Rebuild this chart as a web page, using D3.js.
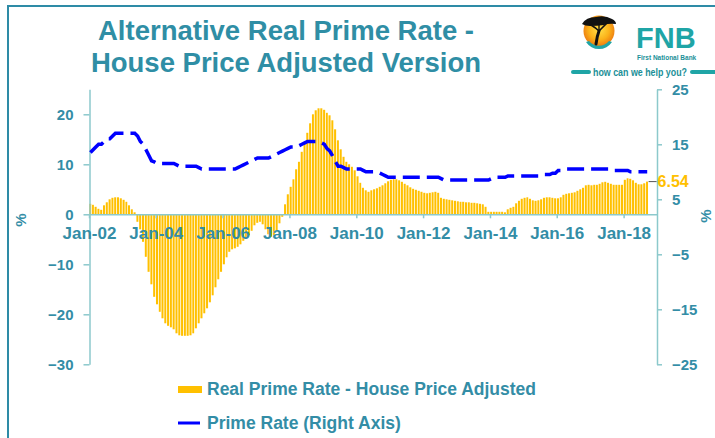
<!DOCTYPE html>
<html lang="en">
<head>
  <meta charset="UTF-8">
  <title>Alternative Real Prime Rate - House Price Adjusted Version</title>
  <style>
    body { margin: 0; background: #fff; font-family: "Liberation Sans", Arial, sans-serif; }
    svg text { font-weight: bold; }
    .axis text { fill: #338da6; font-size: 15px; font-family: "Liberation Sans", Arial, sans-serif; }
    .x-axis text { font-size: 17px; }
    .axis path, .axis line { stroke: #8cc9cc; stroke-width: 1.5; }
  </style>
  <script src="https://cdn.jsdelivr.net/npm/d3@7"></script>
</head>
<body>
  <svg id="chart" width="715" height="438"></svg>
  <script>
    // monthly data, Jan-02 .. Sep-18
    const firstMonth = "Jan-02";
    const realRate = [
      2.1, 1.9, 1.5, 1.1, 0.9, 1.8, 2.4, 3.0, 3.3, 3.4, 3.4, 3.2,              // 2002
      2.9, 2.5, 1.8, 1.0, 0.4, -1.5, -3.0, -5.5, -8.5, -11.5, -14.0, -16.5,    // 2003
      -18.0, -19.5, -20.8, -21.8, -22.3, -22.6, -23.0, -23.8, -24.2, -24.3, -24.3, -24.3,
      -24.2, -23.8, -22.8, -21.8, -20.8, -19.8, -18.8, -17.6, -16.2, -14.6, -13.0, -11.5,
      -10.0, -8.6, -7.5, -7.0, -6.8, -6.5, -6.0, -5.3, -4.8, -4.2, -3.3, -2.2,
      -1.7, -1.5, -2.0, -3.0, -4.0, -4.5, -4.2, -3.2, -1.8, -0.5, 2.0, 4.0,     // 2007
      5.5, 7.0, 9.0, 10.5, 12.5, 14.3, 16.3, 18.2, 20.0, 20.8, 21.2, 21.2,
      20.9, 20.3, 19.8, 18.8, 17.0, 14.8, 13.0, 11.5, 10.5, 10.0, 9.5, 8.8,
      7.6, 6.3, 5.3, 4.8, 4.5, 4.8, 5.0, 5.2, 5.5, 5.8, 6.2, 6.6,              // 2010
      6.9, 7.0, 7.0, 6.8, 6.5, 6.1, 5.8, 5.4, 5.1, 4.9, 4.7, 4.5,
      4.3, 4.2, 4.3, 4.4, 4.5, 4.3, 3.3, 3.1, 3.0, 2.9, 2.8, 2.7,
      2.6, 2.5, 2.5, 2.4, 2.4, 2.3, 2.3, 2.2, 2.1, 2.0, 1.5, 0.5,
      0.5, 0.5, 0.5, 0.5, 0.5, 0.4, 1.0, 1.3, 1.5, 2.2, 2.7, 3.1,              // 2014
      3.3, 3.4, 3.1, 2.8, 2.7, 2.8, 3.0, 3.3, 3.4, 3.4, 3.3, 3.2,
      3.2, 3.4, 3.9, 4.1, 4.2, 4.3, 4.4, 4.7, 5.0, 5.3, 5.8, 5.9,
      5.8, 5.9, 5.9, 6.1, 6.4, 6.5, 6.3, 6.1, 5.9, 5.9, 5.9, 5.9,
      6.9, 7.2, 7.1, 6.8, 6.3, 6.0, 6.0, 6.2, 6.54                              // 2018
    ];
    const primeRate = [
      13.5, 14.0, 14.5, 15.0, 15.0, 15.5, 16.0, 16.0, 16.5, 17.0, 17.0, 17.0,
      17.0, 17.0, 17.0, 17.0, 17.0, 16.5, 15.5, 15.0, 14.0, 13.0, 12.0, 11.8,
      11.5, 11.5, 11.5, 11.5, 11.5, 11.5, 11.5, 11.25, 11.0, 11.0, 11.0, 11.0,
      11.0, 11.0, 11.0, 10.75, 10.5, 10.5, 10.5, 10.5, 10.5, 10.5, 10.5, 10.5,
      10.5, 10.5, 10.5, 10.5, 10.5, 10.75, 11.0, 11.25, 11.5, 11.75, 12.0, 12.25,
      12.5, 12.5, 12.5, 12.5, 12.5, 12.75, 13.0, 13.25, 13.5, 13.75, 14.0, 14.25,
      14.5, 14.5, 14.5, 14.75, 15.0, 15.25, 15.5, 15.5, 15.5, 15.5, 15.5, 15.25,
      15.0, 14.2, 13.8, 12.9, 11.9, 11.0, 11.0, 10.75, 10.5, 10.5, 10.5, 10.5,
      10.5, 10.5, 10.25, 10.0, 10.0, 10.0, 10.0, 10.0, 9.75, 9.5, 9.25, 9.0,
      9.0, 9.0, 9.0, 9.0, 9.0, 9.0, 9.0, 9.0, 9.0, 9.0, 9.0, 9.0,
      9.0, 9.0, 9.0, 9.0, 9.0, 9.0, 8.75, 8.5, 8.5, 8.5, 8.5, 8.5,
      8.5, 8.5, 8.5, 8.5, 8.5, 8.5, 8.5, 8.5, 8.5, 8.5, 8.5, 8.5,
      8.75, 9.0, 9.0, 9.0, 9.0, 9.0, 9.25, 9.25, 9.25, 9.25, 9.25, 9.25,
      9.25, 9.25, 9.25, 9.25, 9.25, 9.25, 9.25, 9.5, 9.5, 9.5, 9.75, 9.75,
      10.25, 10.25, 10.5, 10.5, 10.5, 10.5, 10.5, 10.5, 10.5, 10.5, 10.5, 10.5,
      10.5, 10.5, 10.5, 10.5, 10.5, 10.5, 10.5, 10.25, 10.25, 10.25, 10.25, 10.25,
      10.25, 10.25, 10.0, 10.0, 10.0, 10.0, 10.0, 10.0, 10.0
    ];
    const xTickLabels = ["Jan-02", "Jan-04", "Jan-06", "Jan-08", "Jan-10", "Jan-12", "Jan-14", "Jan-16", "Jan-18"];
    const xEnd = "Jan-19";
    const leftTicks = [-30, -20, -10, 0, 10, 20];
    const rightTicks = [-25, -15, -5, 5, 15, 25];
    const seriesNames = ["Real Prime Rate - House Price Adjusted", "Prime Rate (Right Axis)"];
    const lastLabel = "6.54";

    const teal = "#338da6";
    const gold = "#ffc000";

    const parse = d3.timeParse("%b-%y");
    const start = parse(firstMonth);
    const months = realRate.map((d, i) => d3.timeMonth.offset(start, i));

    const svg = d3.select("#chart");

    // frame
    svg.append("rect")
      .attr("x", 8).attr("y", 6)
      .attr("width", 740).attr("height", 460)
      .attr("fill", "none")
      .attr("stroke", "#2e8ba6")
      .attr("stroke-width", 2);

    const x = d3.scaleTime()
      .domain([start, parse(xEnd)])
      .range([89, 657]);
    const yL = d3.scaleLinear().domain([-30, 25]).range([364.3, 89.3]);
    const yR = d3.scaleLinear().domain([-25, 25]).range([364.3, 89.3]);

    const step = d => x(d3.timeMonth.offset(d, 1)) - x(d);

    // bars
    svg.append("g")
      .selectAll("rect")
      .data(realRate)
      .join("rect")
      .attr("x", (d, i) => x(months[i]) + 0.2)
      .attr("width", (d, i) => step(months[i]) * 0.72)
      .attr("y", d => yL(Math.max(0, d)))
      .attr("height", d => Math.abs(yL(d) - yL(0)))
      .attr("fill", gold);

    // axes
    svg.append("g")
      .attr("class", "axis y-axis")
      .attr("transform", "translate(89.5,0)")
      .call(d3.axisLeft(yL).tickValues(leftTicks).tickSize(6).tickSizeOuter(0).tickPadding(10));

    svg.append("g")
      .attr("class", "axis y-axis")
      .attr("transform", "translate(657,0)")
      .call(d3.axisRight(yR).tickValues(rightTicks).tickSize(5).tickSizeOuter(0).tickPadding(10));

    const xAxis = svg.append("g")
      .attr("class", "axis x-axis")
      .attr("transform", `translate(0,${yL(0)})`)
      .call(d3.axisBottom(x)
        .tickValues(xTickLabels.map(parse))
        .tickFormat(d3.timeFormat("%b-%y"))
        .tickSize(4).tickSizeOuter(0).tickPadding(5));
    xAxis.selectAll("text").attr("dy", "0.95em");

    // prime rate line
    const line = d3.line()
      .x((d, i) => x(months[i]) + step(months[i]) / 2)
      .y(d => yR(d));
    svg.append("path")
      .datum(primeRate)
      .attr("d", line)
      .attr("fill", "none")
      .attr("stroke", "#0000ff")
      .attr("stroke-width", 3.5)
      .attr("stroke-dasharray", "17,7");

    // last value label
    const li = realRate.length - 1;
    const lx = x(months[li]) + step(months[li]);
    svg.append("line")
      .attr("x1", lx).attr("x2", lx + 8)
      .attr("y1", yL(realRate[li])).attr("y2", yL(realRate[li]))
      .attr("stroke", "#555").attr("stroke-width", 1);
    svg.append("text")
      .attr("x", lx + 9).attr("y", yL(realRate[li]))
      .attr("dy", "0.36em")
      .attr("fill", gold)
      .attr("font-size", 16)
      .text(lastLabel);

    // axis titles
    svg.append("text")
      .attr("transform", "translate(26,220) rotate(-90)")
      .attr("text-anchor", "middle")
      .attr("fill", teal).attr("font-size", 15)
      .text("%");
    svg.append("text")
      .attr("transform", "translate(711,216) rotate(-90)")
      .attr("text-anchor", "middle")
      .attr("fill", teal).attr("font-size", 15)
      .text("%");

    // title
    const title = svg.append("text")
      .attr("text-anchor", "middle")
      .attr("fill", "#2f8ea5")
      .attr("font-size", 27.5);
    title.append("tspan").attr("x", 286).attr("y", 40).text("Alternative Real Prime Rate -");
    title.append("tspan").attr("x", 286).attr("y", 72).text("House Price Adjusted Version");

    // legend
    const legend = svg.append("g").attr("font-size", 17.5).attr("fill", teal);
    legend.append("rect")
      .attr("x", 178).attr("y", 386).attr("width", 24).attr("height", 7)
      .attr("fill", gold);
    legend.append("text").attr("x", 207).attr("y", 389).attr("dy", "0.36em").text(seriesNames[0]);
    legend.append("line")
      .attr("x1", 178).attr("x2", 200).attr("y1", 423).attr("y2", 423)
      .attr("stroke", "#0000ff").attr("stroke-width", 3);
    legend.append("text").attr("x", 207).attr("y", 423).attr("dy", "0.36em").text(seriesNames[1]);

    // FNB logo
    const logo = svg.append("g");
    const grad = svg.append("defs").append("radialGradient")
      .attr("id", "sun").attr("cx", "50%").attr("cy", "45%").attr("r", "55%");
    grad.append("stop").attr("offset", "0%").attr("stop-color", "#ffe14a");
    grad.append("stop").attr("offset", "60%").attr("stop-color", "#fbb21a");
    grad.append("stop").attr("offset", "100%").attr("stop-color", "#ec7a10");
    logo.append("circle").attr("cx", 599).attr("cy", 31).attr("r", 15.5).attr("fill", "url(#sun)");
    logo.append("path")
      .attr("d", "M586,42 A15.5,15.5 0 0 0 612,42 L609,41 A13,13 0 0 1 589,41 Z")
      .attr("fill", "#1fa5a6");
    // acacia canopy
    logo.append("path")
      .attr("d", "M582,24 Q586,17 596,17 Q605,15 612,19 Q616,21 616,24 Q609,23 604,25 Q597,26 590,26 Q585,26 582,24 Z")
      .attr("fill", "#111");
    // trunk and branches
    const tree = logo.append("g").attr("stroke", "#111").attr("fill", "none").attr("stroke-linecap", "round");
    tree.append("path").attr("d", "M596,44 Q597,36 599,31").attr("stroke-width", 3);
    tree.append("path").attr("d", "M599,31 Q596,28 591,25").attr("stroke-width", 1.6);
    tree.append("path").attr("d", "M599,31 Q602,28 606,24").attr("stroke-width", 1.6);
    tree.append("path").attr("d", "M599,31 L599,25").attr("stroke-width", 1.4);
    logo.append("text")
      .attr("x", 636).attr("y", 48)
      .attr("font-size", 29).attr("fill", "#1fa5a6")
      .text("FNB");
    logo.append("text")
      .attr("x", 637).attr("y", 59.5)
      .attr("font-size", 6.5).attr("fill", "#1b8f98")
      .text("First National Bank");
    logo.append("rect").attr("x", 571).attr("y", 70).attr("width", 20).attr("height", 4).attr("rx", 2).attr("fill", "#1fa5a6");
    logo.append("rect").attr("x", 690).attr("y", 70).attr("width", 30).attr("height", 4).attr("rx", 2).attr("fill", "#1fa5a6");
    logo.append("text")
      .attr("x", 593).attr("y", 76)
      .attr("font-size", 11.5).attr("font-weight", "normal").attr("fill", "#1b8f98")
      .attr("textLength", 94).attr("lengthAdjust", "spacingAndGlyphs")
      .text("how can we help you?");
  </script>
</body>
</html>
